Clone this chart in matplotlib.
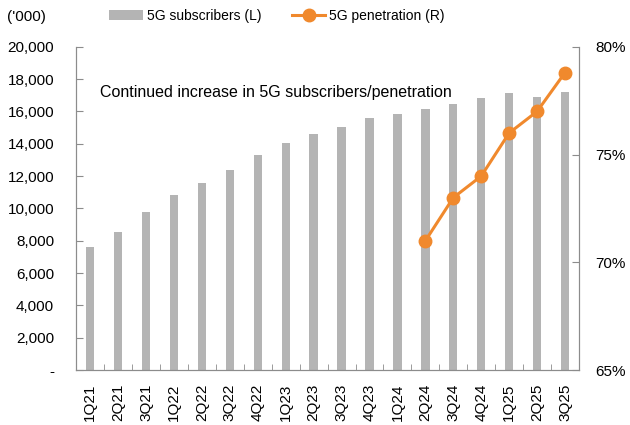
import numpy as np
import matplotlib.pyplot as plt
from matplotlib.ticker import FuncFormatter

plt.rcParams['font.family'] = ['Liberation Sans', 'DejaVu Sans']

quarters = ['1Q21', '2Q21', '3Q21', '1Q22', '2Q22', '3Q22', '4Q22', '1Q23', '2Q23',
            '3Q23', '4Q23', '1Q24', '2Q24', '3Q24', '4Q24', '1Q25', '2Q25', '3Q25']
subscribers = [7600, 8560, 9780, 10810, 11600, 12380, 13310, 14050, 14590,
               15060, 15580, 15850, 16140, 16490, 16820, 17170, 16920, 17190]
# penetration only reported from 2Q24 onwards
pen_quarters = ['2Q24', '3Q24', '4Q24', '1Q25', '2Q25', '3Q25']
penetration = [71.0, 73.0, 74.0, 76.0, 77.0, 78.8]

bar_color = '#b4b4b4'
line_color = '#f0892d'
axis_color = '#8c8c8c'
fs = 11

fig = plt.figure(figsize=(6.3, 4.25), dpi=100)
ax = fig.add_axes([0.121, 0.129, 0.798, 0.761])
x = np.arange(len(quarters))
bars = ax.bar(x, subscribers, width=0.3, color=bar_color, label='5G subscribers (L)')

ax.set_xlim(-0.5, len(quarters) - 0.5)
ax.set_ylim(0, 20000)
ax.set_yticks(range(0, 20001, 2000))
ax.yaxis.set_major_formatter(FuncFormatter(lambda v, p: '-' if v == 0 else f'{v:,.0f}'))
ax.set_xticks(x)
ax.set_xticklabels(quarters, rotation=90)
ax.set_xticks(np.arange(-0.5, len(quarters), 1), minor=True)
ax.tick_params(axis='x', which='major', length=0, pad=10)
ax.tick_params(axis='x', which='minor', direction='in', length=4, color=axis_color)
ax.tick_params(axis='y', direction='in', length=5, color=axis_color, pad=16)
ax.tick_params(labelsize=fs)

ax2 = ax.twinx()
pen_x = [quarters.index(q) for q in pen_quarters]
line, = ax2.plot(pen_x, penetration, color=line_color, lw=2.2, marker='o',
                 markersize=9, label='5G penetration (R)')
ax2.set_ylim(65, 80)
ax2.set_yticks([65, 70, 75, 80])
ax2.yaxis.set_major_formatter(FuncFormatter(lambda v, p: f'{v:.0f}%'))
ax2.tick_params(axis='y', direction='in', length=5, color=axis_color, pad=12, labelsize=fs)

for a in (ax, ax2):
    a.spines['top'].set_visible(False)
    for s in ('left', 'right', 'bottom'):
        a.spines[s].set_color(axis_color)

ax.text(0.048, 0.86, 'Continued increase in 5G subscribers/penetration',
        transform=ax.transAxes, fontsize=11.5, va='center')
fig.text(0.011, 0.96, "('000)", fontsize=fs, va='center')

fig.legend(handles=[bars, line], loc='center', bbox_to_anchor=(0.44, 0.963),
           ncol=2, frameon=False, fontsize=10, handlelength=2.4, columnspacing=2.2,
           handletextpad=0.3)

fig.savefig('out.png', dpi=100)
